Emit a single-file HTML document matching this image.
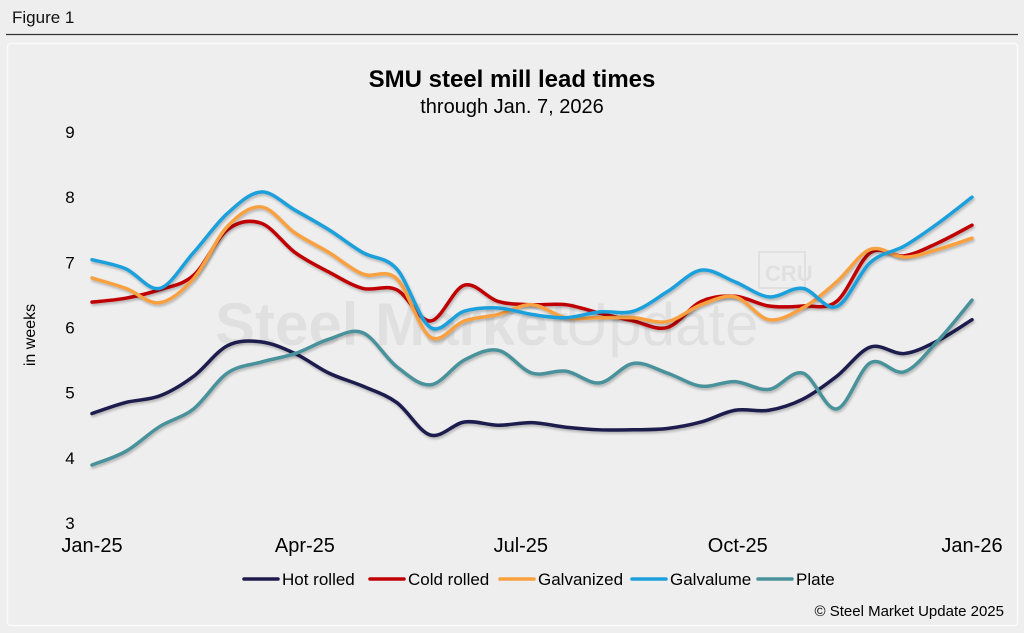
<!DOCTYPE html>
<html><head><meta charset="utf-8"><style>
body{margin:0;width:1024px;height:633px;background:#eeeeee;font-family:"Liberation Sans",Arial,sans-serif;overflow:hidden}
svg{display:block}
</style></head><body>
<svg id="c" width="1024" height="633" viewBox="0 0 1024 633">
<defs><filter id="sh" x="-5%" y="-5%" width="110%" height="120%"><feDropShadow dx="1" dy="2" stdDeviation="1.2" flood-color="#000" flood-opacity="0.25"/></filter></defs>
<text x="12" y="23" font-size="17" fill="#111">Figure 1</text>
<line x1="6" y1="34.5" x2="1018" y2="34.5" stroke="#333" stroke-width="1.2"/>
<rect x="7.5" y="43.5" width="1010" height="582" rx="3" fill="#eeeeee" stroke="#fafafa" stroke-width="1.5"/>
<g opacity="0.05" fill="#000">
<text x="215" y="345" font-size="60" font-weight="bold">Steel Market</text>
<text x="565" y="345" font-size="60">Update</text>
<rect x="759" y="252" width="46" height="36" fill="none" stroke="#000" stroke-width="2"/>
<text x="765" y="281" font-size="22" font-weight="bold">CRU</text>
</g>
<text x="512" y="87" text-anchor="middle" font-size="24" font-weight="bold" fill="#000">SMU steel mill lead times</text>
<text x="512" y="113" text-anchor="middle" font-size="20" fill="#000">through Jan. 7, 2026</text>
<text transform="translate(35,335) rotate(-90)" text-anchor="middle" font-size="16" fill="#000">in weeks</text>
<g id="yt"></g><g id="xt"></g><g id="lines"></g><g id="legend"></g>
<text x="1004" y="616" text-anchor="end" font-size="15" fill="#000">© Steel Market Update 2025</text>
</svg>
<script>
const yTicks=[3,4,5,6,7,8,9];
const xLabels=["Jan-25","Apr-25","Jul-25","Oct-25","Jan-26"];
const xLabelIdx=[0,6.29,12.67,19.08,26];
const hotRolled=[4.68,4.85,4.95,5.25,5.72,5.78,5.6,5.3,5.1,4.85,4.35,4.55,4.5,4.54,4.47,4.43,4.43,4.45,4.55,4.73,4.73,4.9,5.25,5.7,5.6,5.8,6.12];
const coldRolled=[6.39,6.45,6.58,6.8,7.5,7.6,7.15,6.85,6.6,6.58,6.1,6.65,6.4,6.35,6.35,6.22,6.1,6.0,6.4,6.48,6.33,6.33,6.4,7.15,7.1,7.3,7.57];
const galvanized=[6.76,6.6,6.38,6.75,7.55,7.85,7.45,7.15,6.82,6.75,5.85,6.1,6.2,6.35,6.15,6.15,6.15,6.09,6.35,6.47,6.12,6.3,6.7,7.2,7.08,7.2,7.37];
const galvalume=[7.04,6.9,6.6,7.15,7.75,8.08,7.8,7.5,7.15,6.9,6.0,6.25,6.3,6.2,6.15,6.24,6.25,6.55,6.88,6.7,6.47,6.6,6.32,7.0,7.25,7.6,8.0];
const plate=[3.89,4.1,4.48,4.75,5.3,5.47,5.6,5.82,5.92,5.4,5.12,5.5,5.65,5.3,5.33,5.15,5.45,5.3,5.1,5.17,5.05,5.3,4.75,5.46,5.32,5.8,6.42];
const seriesNames=["Hot rolled","Cold rolled","Galvanized","Galvalume","Plate"];
const seriesColors=["#1f1a4d","#c00000","#f9a03f","#1ea0dc","#4a929b"];
const seriesData=[hotRolled,coldRolled,galvanized,galvalume,plate];
const NS="http://www.w3.org/2000/svg";
const X0=92,X1=972,N=hotRolled.length;
const x=i=>X0+(X1-X0)*i/(N-1);
const y=v=>523-(v-3)*(523-132)/6;
function mk(t,a,p){const e=document.createElementNS(NS,t);for(const k in a)e.setAttribute(k,a[k]);p.appendChild(e);return e;}
const yt=document.getElementById('yt');
yTicks.forEach(v=>{const t=mk('text',{x:70,y:y(v)+6,'text-anchor':'middle','font-size':17,fill:'#000'},yt);t.textContent=v;

});
const xt=document.getElementById('xt');
xLabels.forEach((l,i)=>{const t=mk('text',{x:x(xLabelIdx[i]),y:552,'text-anchor':'middle','font-size':20,fill:'#000'},xt);t.textContent=l;

});
function path(d){const p=d.map((v,i)=>[x(i),y(v)]);let s=`M${p[0][0]},${p[0][1]}`;
for(let i=0;i<p.length-1;i++){const a=p[i-1]||p[i],b=p[i],c=p[i+1],e=p[i+2]||c;
s+=` C${b[0]+(c[0]-a[0])/6},${b[1]+(c[1]-a[1])/6} ${c[0]-(e[0]-b[0])/6},${c[1]-(e[1]-b[1])/6} ${c[0]},${c[1]}`;}return s;}
const lg=document.getElementById('lines');
seriesData.forEach((d,k)=>{const p=mk('path',{d:path(d),fill:'none',stroke:seriesColors[k],'stroke-width':3.5,'stroke-linecap':'round',filter:'url(#sh)'},lg);

});
const leg=document.getElementById('legend');
const lx=[244,370,500,632,758];
seriesNames.forEach((n,k)=>{const g=mk('g',{},leg);


mk('line',{x1:lx[k],y1:579,x2:lx[k]+34,y2:579,stroke:seriesColors[k],'stroke-width':3.5,'stroke-linecap':'round'},g);
const t=mk('text',{x:lx[k]+38,y:585,'font-size':17,fill:'#000'},g);t.textContent=n;});
</script>
</body></html>
